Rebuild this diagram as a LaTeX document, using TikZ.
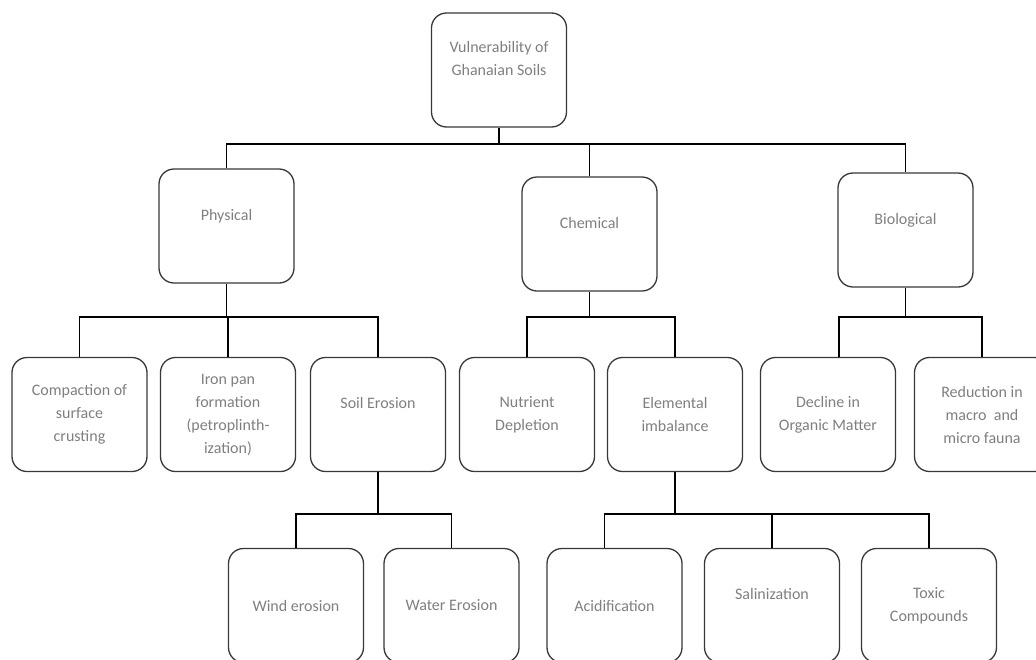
\documentclass[tikz,border=0pt]{standalone}
\usepackage{fontspec}
\setmainfont{Carlito}
\definecolor{boxline}{HTML}{383838}
\definecolor{boxtext}{HTML}{7F7F7F}

\begin{document}
\begin{tikzpicture}[x = 1pt, y = -1pt, every node/.style = {draw = boxline, line width = 1.3pt, rounded corners = 15pt, minimum width = 135pt, minimum height = 114pt, inner sep = 0pt, align = center, text = boxtext, font = \fontsize{16}{23}\selectfont}]
	\useasboundingbox (0,0) rectangle (1036,659);
	\clip (0,0) rectangle (1036,659);
	% top
	\node (root) at (499, 70) {Vulnerability of\\Ghanaian Soils\\\mbox{}};
	% second row
	\node (phys) at (226.5, 226) {Physical\\\mbox{}};
	\node (chem) at (589.5, 234) {Chemical\\\mbox{}};
	\node (bio) at (905.5, 230) {Biological\\\mbox{}};
	% third row
	\node (compact) at (79.5, 414.5) {Compaction of\\surface\\crusting};
	\node (iron) at (228, 414.5) {Iron pan\\formation\\(petroplinth-\\ization)};
	\node (soil) at (378, 414.5) {Soil Erosion\\\mbox{}};
	\node (nutr) at (527, 414.5) {Nutrient\\Depletion};
	\node (elem) at (675, 414.5) {Elemental\\imbalance};
	\node (decl) at (828, 414.5) {Decline in\\Organic Matter};
	\node (redu) at (982, 414.5) {Reduction in\\macro \ and\\micro fauna};
	% bottom row
	\node (wind) at (296, 605.5) {Wind erosion};
	\node (water) at (451.5, 605.5) {Water Erosion};
	\node (acid) at (614.5, 605.5) {Acidification};
	\node (sali) at (772, 605.5) {Salinization\\\mbox{}};
	\node (toxic) at (929, 605.5) {Toxic\\Compounds};

	\begin{scope}[line width = 1.3pt]
	\draw (root.south) -- (root.south |- 0,144);
	\draw (phys.north) |- (bio.north |- 0,144) -- (bio.north);
	\draw (chem.north) -- (chem.north |- 0,144);

	\draw (phys.south) -- (phys.south |- 0,317);
	\draw (compact.north) |- (soil.north |- 0,317) -- (soil.north);
	\draw (iron.north) -- (iron.north |- 0,317);
	\draw (chem.south) -- (chem.south |- 0,317);
	\draw (nutr.north) |- (elem.north |- 0,317) -- (elem.north);
	\draw (bio.south) -- (bio.south |- 0,317);
	\draw ([xshift = 11pt]decl.north) |- (redu.north |- 0,317) -- (redu.north);

	\draw (soil.south) -- (soil.south |- 0,514);
	\draw (wind.north) |- (water.north |- 0,514) -- (water.north);
	\draw (elem.south) -- (elem.south |- 0,514);
	\draw ([xshift = -10pt]acid.north) |- (toxic.north |- 0,514) -- (toxic.north);
	\draw (sali.north) -- (sali.north |- 0,514);
	\end{scope}
\end{tikzpicture}
\end{document}
